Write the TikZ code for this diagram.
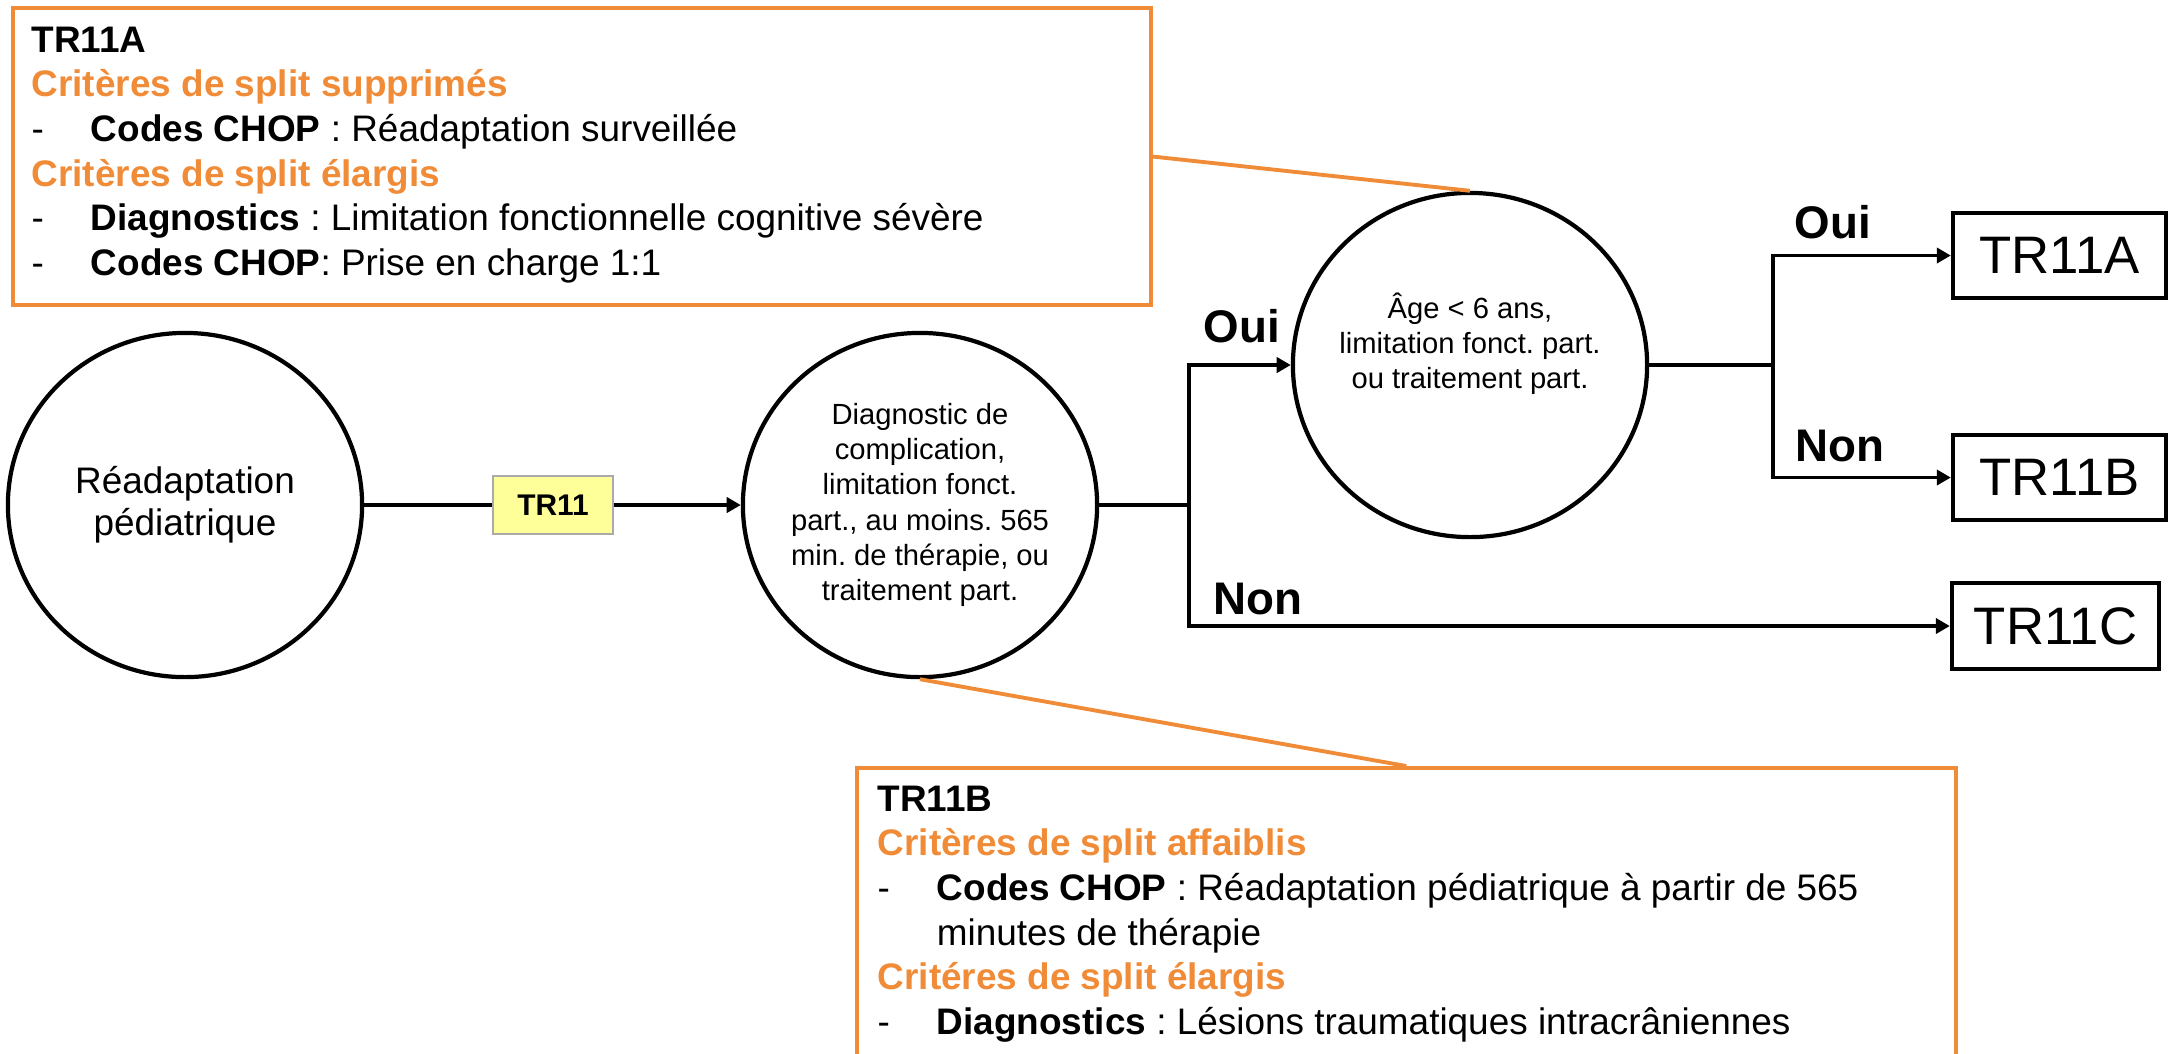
\documentclass[tikz,border=0pt]{standalone}
\usepackage{fontspec}
\setmainfont{Liberation Sans}
\usepackage{xcolor}
\usepackage{tikz}
\usetikzlibrary{arrows.meta, positioning, calc, shapes.geometric}
\definecolor{splitorange}{RGB}{240, 139, 55}
\definecolor{tagyellow}{RGB}{255, 255, 153}
\definecolor{taggray}{RGB}{170, 170, 170}
\newcommand{\puce}{\makebox[16.8pt][l]{-}}
\frenchspacing

\begin{document}
\begin{tikzpicture}[x=0.01cm, y=-0.01cm,
    noeud/.style={ellipse, draw, line width=1.2pt, minimum width=3.54cm, minimum height=3.44cm, align=center, inner sep=-2pt},
    etiquette/.style={rectangle, draw=taggray, fill=tagyellow, line width=0.6pt, minimum width=1.2cm, minimum height=0.58cm, font=\fontsize{8.5}{10}\selectfont\bfseries},
    resultat/.style={rectangle, draw, line width=1.2pt, minimum width=2.13cm, minimum height=0.85cm, font=\fontsize{15}{18}\selectfont},
    reponse/.style={anchor=base west, inner sep=0pt, font=\fontsize{13}{15}\selectfont\bfseries},
    trait/.style={line width=1.1pt},
    fleche/.style={line width=1.1pt, -{Triangle[length=4pt, width=4.3pt]}},
    cadre/.style={rectangle, draw=splitorange, line width=1.1pt, anchor=north west, inner sep=0pt},
    lien/.style={draw=splitorange, line width=1.1pt},
    note/.style={anchor=north west, inner sep=0pt, align=left, font=\fontsize{10.5}{12.7}\selectfont}]
    \useasboundingbox (0, 0) rectangle (2173, 1053);

    % arbre de décision
    \node[noeud, font=\fontsize{10.5}{12}\selectfont] (depart) at (185, 505) {Réadaptation\\pédiatrique};
    \node[etiquette] (tr11) at (553, 505) {TR11};
    \node[noeud, font=\fontsize{8.3}{10}\selectfont] (question1) at (920, 505) {Diagnostic de\\complication,\\limitation fonct.\\part., au moins. 565\\min. de thérapie, ou\\traitement part.};
    \node[noeud, font=\fontsize{8.3}{10}\selectfont, text height=15pt] (question2) at (1470, 365) {Âge < 6 ans,\\limitation fonct. part.\\ou traitement part.};

    % DRG
    \node[resultat] (tr11a) at (2059.5, 255.5) {TR11A};
    \node[resultat] (tr11b) at (2059.5, 477.5) {TR11B};
    \node[resultat, minimum width=2.07cm, minimum height=0.86cm] (tr11c) at (2055.5, 626) {TR11C};

    \coordinate (branche1) at (1189, 505);
    \coordinate (branche2) at (1773, 365);

    \draw[trait] (depart.east) -- (tr11.west);
    \draw[fleche] (tr11.east) -- (question1.west);
    \draw[trait] (question1.east) -- (branche1);
    \draw[fleche] (branche1) |- (question2.west);
    \draw[fleche] (branche1) |- (tr11c.west);
    \draw[trait] (question2.east) -- (branche2);
    \draw[fleche] (branche2) |- (tr11a.west);
    \draw[fleche] (branche2) |- (tr11b.west);

    % Oui / Non
    \node[reponse] (oui1) at (1203, 342) {Oui};
    \node[reponse] (non1) at (1213, 614) {Non};
    \node[reponse] (oui2) at (1794, 238) {Oui};
    \node[reponse] (non2) at (1795, 461) {Non};

    % encadrés des critères
    \node[cadre, minimum width=11.37cm, minimum height=2.97cm] (cadreA) at (11, 6) {};
    \node[note] (noteA) at (31, 26) {%
        \textbf{TR11A}\\
        \textcolor{splitorange}{\textbf{Critères de split supprimés}}\\
        \puce\textbf{Codes CHOP} : Réadaptation surveillée\\
        \textcolor{splitorange}{\textbf{Critères de split élargis}}\\
        \puce\textbf{Diagnostics} : Limitation fonctionnelle cognitive sévère\\
        \puce\textbf{Codes CHOP}: Prise en charge 1:1};
    \node[cadre, minimum width=10.98cm, minimum height=3.6cm] (cadreB) at (855, 766) {};
    \node[note] (noteB) at (877, 785) {%
        \textbf{TR11B}\\
        \textcolor{splitorange}{\textbf{Critères de split affaiblis}}\\
        \puce\textbf{Codes CHOP} : Réadaptation pédiatrique à partir de 565\\
        \hspace*{16.8pt}minutes de thérapie\\
        \textcolor{splitorange}{\textbf{Critéres de split élargis}}\\
        \puce\textbf{Diagnostics} : Lésions traumatiques intracrâniennes};

    \draw[lien] (cadreA.east) -- (question2.north);
    \draw[lien] (question1.south) -- (cadreB.north);
\end{tikzpicture}
\end{document}
